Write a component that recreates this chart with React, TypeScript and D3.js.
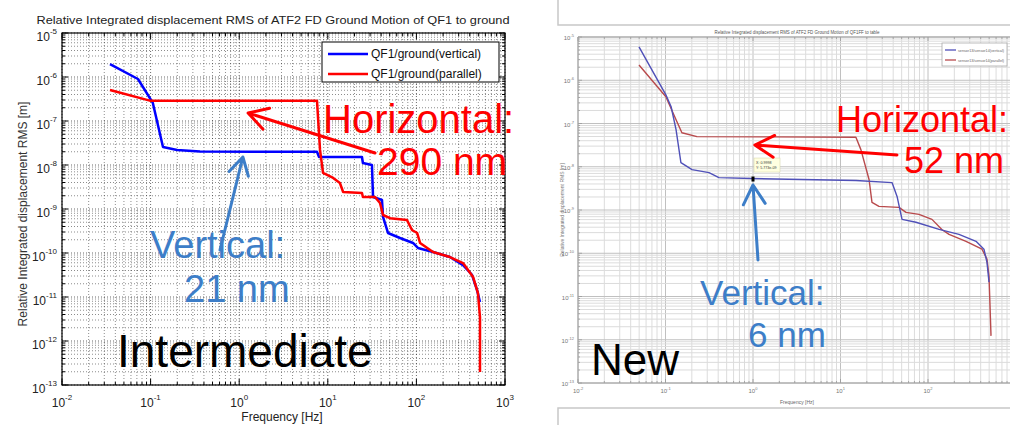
import * as d3 from "d3";

type Pt = [number, number];

// shared axes
const freqDomain: Pt = [1e-2, 1e3];
const rmsDomain: Pt = [1e-13, 1e-5];
const yLabel = "Relative Integrated displacement RMS [m]";
const xLabel = "Frequency [Hz]";

// left figure ("Intermediate")
const leftTitle = "Relative Integrated displacement RMS of ATF2 FD Ground Motion of QF1 to ground";
const leftNames = ["QF1/ground(vertical)", "QF1/ground(parallel)"];
const leftVertical: Pt[] = [
  [0.0348, 1.97e-6], [0.072, 9.0e-7], [0.106, 2.57e-7], [0.138, 2.56e-8],
  [0.199, 2.19e-8], [0.361, 2.02e-8], [7.55, 2.0e-8], [7.96, 1.52e-8],
  [24.3, 1.52e-8], [24.9, 1.11e-8], [31.5, 1.0e-8], [32.4, 1.87e-9],
  [40.9, 1.6e-9], [42.0, 6.6e-10], [47.8, 2.85e-10], [65.3, 2.19e-10],
  [91.6, 1.69e-10], [104, 1.3e-10], [154, 1.05e-10], [239, 8.1e-11],
  [336, 5.3e-11], [424, 3.2e-11], [483, 1.45e-11], [522, 7.7e-12],
];
const leftParallel: Pt[] = [
  [0.0348, 5.07e-7], [0.098, 2.9e-7], [7.55, 2.9e-7], [8.17, 2.2e-8],
  [8.83, 6.6e-9], [11.5, 5.07e-9], [13.7, 3.9e-9], [14.9, 2.44e-9],
  [24.3, 2.31e-9], [24.9, 1.87e-9], [34.1, 1.87e-9], [38.8, 1.37e-9],
  [42.0, 7.3e-10], [50.4, 6.2e-10], [78.3, 5.6e-10], [89.2, 3.33e-10],
  [102, 2.85e-10], [110, 1.69e-10], [154, 1.05e-10], [239, 8.1e-11],
  [336, 5.9e-11], [436, 2.85e-11], [495, 1.23e-11], [522, 3.5e-12],
  [522, 1.97e-13],
];

// right figure ("New")
const rightTitle = "Relative Integrated displacement RMS of ATF2 FD Ground Motion of QF1FF to table";
const rightNames = ["sensor13/sensor14(vertical)", "sensor13/sensor14(parallel)"];
const rightVertical: Pt[] = [
  [0.0498, 5.9e-6], [0.101, 4.6e-7], [0.116, 2.44e-7], [0.132, 7.2e-8],
  [0.15, 1.25e-8], [0.201, 8.6e-9], [0.314, 7.3e-9], [0.408, 5.6e-9],
  [0.975, 5.35e-9], [15.0, 4.8e-9], [38.8, 4.3e-9], [44.3, 2.06e-9],
  [50.5, 6.07e-10], [72.9, 5.2e-10], [134, 3.57e-10], [226, 2.74e-10],
  [354, 1.89e-10], [436, 1.24e-10], [472, 6.2e-11], [498, 2.15e-11],
];
const rightParallel: Pt[] = [
  [0.0498, 2.26e-6], [0.101, 4.15e-7], [0.132, 1.22e-7], [0.154, 6.1e-8],
  [0.229, 4.97e-8], [1.65, 4.9e-8], [15.0, 4.8e-8], [17.1, 2.49e-8],
  [21.2, 5.07e-9], [22.9, 1.5e-9], [27.5, 1.21e-9], [46.6, 1.15e-9],
  [56.1, 8.8e-10], [78.9, 7.9e-10], [111, 6.07e-10], [145, 3.5e-10],
  [174, 2.74e-10], [272, 1.89e-10], [414, 1.24e-10], [472, 7.3e-11],
  [498, 2.95e-11], [525, 1.23e-12],
];

// annotation arrows, [tail, tip] in data units
const leftHorizArrow: Pt[] = [[34.1, 1.87e-8], [1.26, 1.52e-7]];
const leftVertArrow: Pt[] = [[0.607, 1.17e-10], [1.1, 1.52e-8]];
const rightHorizArrow: Pt[] = [[44.2, 1.87e-8], [1.05, 3.18e-8]];
const rightVertArrow: Pt[] = [[1.14, 6.98e-11], [1.0, 3.78e-9]];
const datatipPoint: Pt = [1.0, 5.2e-9];
const datatipText = ["X: 0.9998", "Y: 5.773e-09"];

const font = "'Liberation Sans', Arial, Helvetica, sans-serif";
const annBlue = "#3d7ec8";

const isMajor = (t: number) => Math.abs(Math.log10(t) - Math.round(Math.log10(t))) < 1e-6;
const expOf = (t: number) => Math.round(Math.log10(t));

function arrowPath(x: any, y: any, pts: Pt[], head: number) {
  const tx = x(pts[0][0]), ty = y(pts[0][1]);
  const hx = x(pts[1][0]), hy = y(pts[1][1]);
  const a = Math.atan2(ty - hy, tx - hx);
  const s = 0.52;
  return `M${tx},${ty}L${hx},${hy}M${hx + head * Math.cos(a - s)},${hy + head * Math.sin(a - s)}L${hx},${hy}L${hx + head * Math.cos(a + s)},${hy + head * Math.sin(a + s)}`;
}

function LeftPanel() {
  const p = { left: 62, right: 505, top: 33, bottom: 385 };
  const x = d3.scaleLog().domain(freqDomain).range([p.left, p.right]);
  const y = d3.scaleLog().domain(rmsDomain).range([p.bottom, p.top]);
  const xt = x.ticks();
  const yt = y.ticks();
  const line = d3.line<Pt>().x((d) => x(d[0])).y((d) => y(d[1]));

  return (
    <g fontFamily={font}>
      <text x={273} y={24} textAnchor="middle" fontSize={11.7} fill="#222" textLength={473} lengthAdjust="spacingAndGlyphs">
        {leftTitle}
      </text>
      <rect x={p.left} y={p.top} width={p.right - p.left} height={p.bottom - p.top} fill="#fff" />
      {/* dotted grid */}
      {xt.map((t) => (
        <line key={"gx" + t} x1={x(t)} x2={x(t)} y1={p.top} y2={p.bottom} stroke="#000" strokeOpacity={isMajor(t) ? 0.65 : 0.5} strokeWidth={0.9} strokeDasharray="1 2" />
      ))}
      {yt.map((t) => (
        <line key={"gy" + t} x1={p.left} x2={p.right} y1={y(t)} y2={y(t)} stroke="#000" strokeOpacity={isMajor(t) ? 0.65 : 0.5} strokeWidth={0.9} strokeDasharray="1 2" />
      ))}
      {/* ticks on all sides */}
      {xt.map((t) => {
        const l = isMajor(t) ? 6 : 3;
        return (
          <g key={"tx" + t} stroke="#000" strokeWidth={1}>
            <line x1={x(t)} x2={x(t)} y1={p.bottom} y2={p.bottom - l} />
            <line x1={x(t)} x2={x(t)} y1={p.top} y2={p.top + l} />
          </g>
        );
      })}
      {yt.map((t) => {
        const l = isMajor(t) ? 6 : 3;
        return (
          <g key={"ty" + t} stroke="#000" strokeWidth={1}>
            <line x1={p.left} x2={p.left + l} y1={y(t)} y2={y(t)} />
            <line x1={p.right} x2={p.right - l} y1={y(t)} y2={y(t)} />
          </g>
        );
      })}
      <rect x={p.left} y={p.top} width={p.right - p.left} height={p.bottom - p.top} fill="none" stroke="#000" strokeWidth={1.2} />
      {/* tick labels */}
      {xt.filter(isMajor).map((t) => (
        <text key={"lx" + t} x={x(t)} y={407} textAnchor="middle" fontSize={12} fill="#222">
          10<tspan dy={-7} fontSize={8}>{expOf(t)}</tspan>
        </text>
      ))}
      {yt.filter(isMajor).map((t) => (
        <text key={"ly" + t} x={57} y={y(t) + 8} textAnchor="end" fontSize={12} fill="#222">
          10<tspan dy={-7} fontSize={8}>{expOf(t)}</tspan>
        </text>
      ))}
      <text x={282} y={421} textAnchor="middle" fontSize={12} fill="#222">{xLabel}</text>
      <text transform="translate(27,214) rotate(-90)" textAnchor="middle" fontSize={12} fill="#333">{yLabel}</text>
      {/* curves */}
      <path d={line(leftVertical) ?? ""} fill="none" stroke="#0000ff" strokeWidth={2.5} strokeLinejoin="round" />
      <path d={line(leftParallel) ?? ""} fill="none" stroke="#ff0000" strokeWidth={2.5} strokeLinejoin="round" />
      {/* legend */}
      <rect x={322} y={42} width={177} height={40} fill="#fff" stroke="#000" strokeWidth={1} />
      {leftNames.map((n, i) => (
        <g key={n}>
          <line x1={328} x2={368} y1={54 + i * 20} y2={54 + i * 20} stroke={i === 0 ? "#0000ff" : "#ff0000"} strokeWidth={2.5} />
          <text x={371} y={58 + i * 20} fontSize={12} fill="#111">{n}</text>
        </g>
      ))}
      {/* annotations */}
      <path d={arrowPath(x, y, leftHorizArrow, 22)} fill="none" stroke="#ff0000" strokeWidth={3} strokeLinecap="round" strokeLinejoin="round" />
      <path d={arrowPath(x, y, leftVertArrow, 20)} fill="none" stroke={annBlue} strokeWidth={3} strokeLinecap="round" strokeLinejoin="round" />
      <text x={323} y={133} fontSize={40} fill="#ff0000">Horizontal:</text>
      <text x={377} y={175} fontSize={39} fill="#ff0000">290 nm</text>
      <text x={150} y={258} fontSize={38} fill={annBlue}>Vertical:</text>
      <text x={184} y={302} fontSize={38} fill={annBlue}>21 nm</text>
      <text x={117} y={367} fontSize={46} fill="#000">Intermediate</text>
    </g>
  );
}

function RightPanel() {
  const p = { left: 578, right: 1015.5, top: 37, bottom: 383 };
  const x = d3.scaleLog().domain(freqDomain).range([p.left, p.right]);
  const y = d3.scaleLog().domain(rmsDomain).range([p.bottom, p.top]);
  const xt = x.ticks();
  const yt = y.ticks();
  const line = d3.line<Pt>().x((d) => x(d[0])).y((d) => y(d[1]));
  const mx = x(datatipPoint[0]);
  const my = y(datatipPoint[1]);

  return (
    <g fontFamily={font}>
      {/* window frame edges */}
      <path d="M558,0V25H1010" fill="none" stroke="#c8c8c8" strokeWidth={1.5} />
      <path d="M1010,408H558V425" fill="none" stroke="#c8c8c8" strokeWidth={1.5} />
      <text x={797} y={34} textAnchor="middle" fontSize={5.5} fill="#555" textLength={165} lengthAdjust="spacingAndGlyphs">
        {rightTitle}
      </text>
      {/* solid grid */}
      {xt.map((t) => (
        <line key={"gx" + t} x1={x(t)} x2={x(t)} y1={p.top} y2={p.bottom} stroke={isMajor(t) ? "#c0c0c0" : "#dcdcdc"} strokeWidth={1} />
      ))}
      {yt.map((t) => (
        <line key={"gy" + t} x1={p.left} x2={p.right} y1={y(t)} y2={y(t)} stroke={isMajor(t) ? "#c0c0c0" : "#dcdcdc"} strokeWidth={1} />
      ))}
      {xt.map((t) => {
        const l = isMajor(t) ? 4 : 2;
        return (
          <g key={"tx" + t} stroke="#999" strokeWidth={0.8}>
            <line x1={x(t)} x2={x(t)} y1={p.bottom} y2={p.bottom - l} />
            <line x1={x(t)} x2={x(t)} y1={p.top} y2={p.top + l} />
          </g>
        );
      })}
      {yt.map((t) => (
        <line key={"ty" + t} x1={p.left} x2={p.left + (isMajor(t) ? 4 : 2)} y1={y(t)} y2={y(t)} stroke="#999" strokeWidth={0.8} />
      ))}
      <path d={`M${p.right},${p.top}H${p.left}V${p.bottom}H${p.right}`} fill="none" stroke="#a0a0a0" strokeWidth={1} />
      {xt.filter((t) => isMajor(t) && x(t) < 1000).map((t) => (
        <text key={"lx" + t} x={x(t)} y={393} textAnchor="middle" fontSize={6} fill="#777">
          10<tspan dy={-3} fontSize={4}>{expOf(t)}</tspan>
        </text>
      ))}
      {yt.filter(isMajor).map((t) => (
        <text key={"ly" + t} x={574} y={y(t) + 3} textAnchor="end" fontSize={6} fill="#777">
          10<tspan dy={-3} fontSize={4}>{expOf(t)}</tspan>
        </text>
      ))}
      <text x={797} y={404} textAnchor="middle" fontSize={5} fill="#666">{xLabel}</text>
      <text transform="translate(564,210) rotate(-90)" textAnchor="middle" fontSize={5} fill="#777">{yLabel}</text>
      {/* legend */}
      <rect x={942} y={43} width={65} height={23} fill="#fff" stroke="#aaa" strokeWidth={0.8} />
      {rightNames.map((n, i) => (
        <g key={n}>
          <line x1={945} x2={956} y1={50 + i * 10} y2={50 + i * 10} stroke={i === 0 ? "#4f50b8" : "#b84a4c"} strokeWidth={1.3} />
          <text x={958} y={52 + i * 10} fontSize={4.2} fill="#666" textLength={46} lengthAdjust="spacingAndGlyphs">{n}</text>
        </g>
      ))}
      {/* curves */}
      <path d={line(rightParallel) ?? ""} fill="none" stroke="#b84a4c" strokeWidth={1.4} strokeLinejoin="round" />
      <path d={line(rightVertical) ?? ""} fill="none" stroke="#4f50b8" strokeWidth={1.4} strokeLinejoin="round" />
      {/* datatip */}
      <rect x={mx - 1.5} y={my - 2.5} width={3} height={5} fill="#000" />
      <rect x={mx + 1} y={my - 21} width={26} height={14} fill="#ffffe0" stroke="#d8d8b0" strokeWidth={0.6} />
      {datatipText.map((s, i) => (
        <text key={s} x={mx + 3} y={my - 15.5 + i * 5} fontSize={3.6} fill="#333">{s}</text>
      ))}
      {/* annotations */}
      <path d={arrowPath(x, y, rightHorizArrow, 22)} fill="none" stroke="#ff0000" strokeWidth={3} strokeLinecap="round" strokeLinejoin="round" />
      <path d={arrowPath(x, y, rightVertArrow, 22)} fill="none" stroke={annBlue} strokeWidth={3} strokeLinecap="round" strokeLinejoin="round" />
      <text x={836} y={132} fontSize={36} fill="#ff0000">Horizontal:</text>
      <text x={904} y={173} fontSize={36} fill="#ff0000">52 nm</text>
      <text x={700} y={305} fontSize={35} fill={annBlue}>Vertical:</text>
      <text x={748} y={347} fontSize={35} fill={annBlue}>6 nm</text>
      <text x={591} y={375} fontSize={44} fill="#000">New</text>
    </g>
  );
}

export default function App() {
  return (
    <svg
      width={1010}
      height={425}
      style={{ position: "absolute", left: 0, top: 0, display: "block", background: "#fff" }}
    >
      <LeftPanel />
      <RightPanel />
    </svg>
  );
}
